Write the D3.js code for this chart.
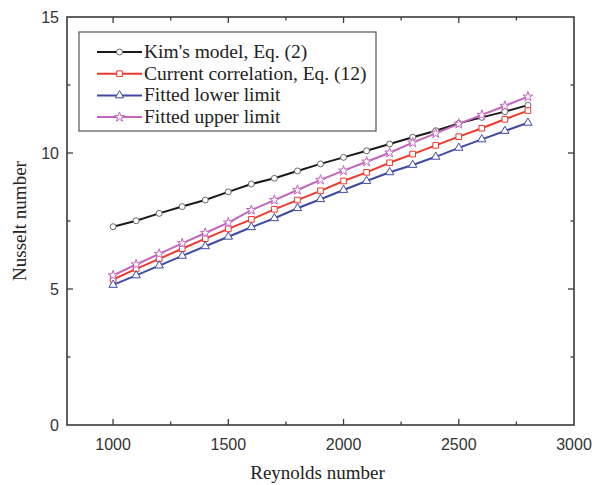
<!DOCTYPE html>
<html lang="en">
<head>
  <meta charset="UTF-8">
  <script src="https://d3js.org/d3.v7.min.js"></script>
  <title>Nusselt vs Reynolds</title>
  <style>
    body { margin: 0; background: #fff; }
  </style>
</head>
<body>
  <script>
    const reynolds = [1000, 1100, 1200, 1300, 1400, 1500, 1600, 1700, 1800, 1900,
                      2000, 2100, 2200, 2300, 2400, 2500, 2600, 2700, 2800]
    const kimModel = [7.29, 7.51, 7.78, 8.03, 8.27, 8.57, 8.86, 9.07, 9.34, 9.60,
                      9.84, 10.08, 10.33, 10.58, 10.82, 11.09, 11.31, 11.52, 11.76]
    const currentCorr = [5.35, 5.74, 6.11, 6.48, 6.85, 7.21, 7.56, 7.93, 8.27, 8.61,
                         8.97, 9.29, 9.64, 9.96, 10.28, 10.60, 10.91, 11.24, 11.56]
    const lowerLimit = [5.15, 5.50, 5.86, 6.22, 6.57, 6.92, 7.27, 7.60, 7.97, 8.30,
                        8.64, 8.97, 9.29, 9.56, 9.86, 10.19, 10.50, 10.81, 11.11]
    const upperLimit = [5.50, 5.90, 6.29, 6.68, 7.06, 7.44, 7.90, 8.27, 8.64, 9.01,
                        9.35, 9.68, 10.01, 10.38, 10.72, 11.07, 11.40, 11.73, 12.07]
    const seriesNames = ["Kim's model, Eq. (2)", "Current correlation, Eq. (12)",
                         "Fitted lower limit", "Fitted upper limit"]
    const xTicks = [1000, 1500, 2000, 2500, 3000]
    const yTicks = [0, 5, 10, 15]

    const series = [
      {name: seriesNames[0], values: kimModel, color: "#1a1a1a", marker: "circle"},
      {name: seriesNames[1], values: currentCorr, color: "#ec3a2c", marker: "square"},
      {name: seriesNames[2], values: lowerLimit, color: "#3f4aa6", marker: "triangle"},
      {name: seriesNames[3], values: upperLimit, color: "#c564bd", marker: "star"}
    ]

    const dimensions = {
      width: 592,
      height: 485,
      margin: {top: 17, right: 18, bottom: 60, left: 67}
    }
    dimensions.boundedWidth = dimensions.width - dimensions.margin.left - dimensions.margin.right
    dimensions.boundedHeight = dimensions.height - dimensions.margin.top - dimensions.margin.bottom

    const svg = d3.select("body").append("svg")
        .attr("width", dimensions.width)
        .attr("height", dimensions.height)

    const bounds = svg.append("g")
        .attr("transform", `translate(${dimensions.margin.left},${dimensions.margin.top})`)

    const xScale = d3.scaleLinear().domain([800, 3000]).range([0, dimensions.boundedWidth])
    const yScale = d3.scaleLinear().domain([0, 15]).range([dimensions.boundedHeight, 0])

    const axisColor = "#3a3a3a"
    const minorX = d3.range(1250, 3000, 500)
    const minorY = [2.5, 7.5, 12.5]

    // ticks point inward on all four sides
    function drawTicks(values, len, side) {
      bounds.append("g").selectAll("line")
        .data(values)
        .join("line")
        .attr("x1", d => side === "bottom" || side === "top" ? xScale(d) : (side === "left" ? 0 : dimensions.boundedWidth))
        .attr("x2", d => side === "bottom" || side === "top" ? xScale(d) : (side === "left" ? len : dimensions.boundedWidth - len))
        .attr("y1", d => side === "left" || side === "right" ? yScale(d) : (side === "bottom" ? dimensions.boundedHeight : 0))
        .attr("y2", d => side === "left" || side === "right" ? yScale(d) : (side === "bottom" ? dimensions.boundedHeight - len : len))
        .attr("stroke", axisColor)
        .attr("stroke-width", 1.3)
    }
    const majorX = xTicks.filter(d => d < 3000)
    const majorY = yTicks.filter(d => d > 0 && d < 15)
    drawTicks(majorX, 6, "bottom"); drawTicks(majorX, 6, "top")
    drawTicks(minorX, 3.5, "bottom"); drawTicks(minorX, 3.5, "top")
    drawTicks(majorY, 6, "left"); drawTicks(majorY, 6, "right")
    drawTicks(minorY, 3.5, "left"); drawTicks(minorY, 3.5, "right")

    bounds.append("rect")
        .attr("width", dimensions.boundedWidth)
        .attr("height", dimensions.boundedHeight)
        .attr("fill", "none")
        .attr("stroke", axisColor)
        .attr("stroke-width", 1.6)

    // tick labels
    bounds.append("g").selectAll("text")
      .data(xTicks)
      .join("text")
      .attr("x", d => xScale(d))
      .attr("y", dimensions.boundedHeight + 25)
      .attr("text-anchor", "middle")
      .attr("font-family", "Liberation Sans, Arial, sans-serif")
      .attr("font-size", 16)
      .attr("fill", "#333")
      .text(d => d)

    bounds.append("g").selectAll("text")
      .data(yTicks)
      .join("text")
      .attr("x", -8)
      .attr("y", d => yScale(d) + 6)
      .attr("text-anchor", "end")
      .attr("font-family", "Liberation Sans, Arial, sans-serif")
      .attr("font-size", 16)
      .attr("fill", "#333")
      .text(d => d)

    bounds.append("text")
      .attr("x", dimensions.boundedWidth / 2 - 3)
      .attr("y", dimensions.boundedHeight + 54)
      .attr("text-anchor", "middle")
      .attr("font-family", "Liberation Serif, Times New Roman, serif")
      .attr("font-size", 19)
      .attr("fill", "#222")
      .text("Reynolds number")

    bounds.append("text")
      .attr("transform", `translate(-41, ${dimensions.boundedHeight / 2}) rotate(-90)`)
      .attr("text-anchor", "middle")
      .attr("font-family", "Liberation Serif, Times New Roman, serif")
      .attr("font-size", 19)
      .attr("fill", "#222")
      .text("Nusselt number")

    const symbolTypes = {
      circle: d3.symbolCircle,
      square: d3.symbolSquare,
      triangle: d3.symbolTriangle,
      star: d3.symbolStar
    }
    const symbolSizes = {circle: 28, square: 32, triangle: 30, star: 30}

    const line = d3.line()
        .x((d, i) => xScale(reynolds[i]))
        .y(d => yScale(d))

    series.forEach(s => {
      bounds.append("path")
        .datum(s.values)
        .attr("d", line)
        .attr("fill", "none")
        .attr("stroke", s.color)
        .attr("stroke-width", 2)

      bounds.append("g").selectAll("path")
        .data(s.values)
        .join("path")
        .attr("transform", (d, i) => `translate(${xScale(reynolds[i])},${yScale(d)})`)
        .attr("d", d3.symbol().type(symbolTypes[s.marker]).size(symbolSizes[s.marker]))
        .attr("fill", "#fff")
        .attr("stroke", s.color === "#1a1a1a" ? "#666" : s.color)
        .attr("stroke-width", 1)
    })

    // legend
    const legend = bounds.append("g")
        .attr("transform", `translate(${79 - dimensions.margin.left},${32 - dimensions.margin.top})`)

    legend.append("rect")
        .attr("width", 297)
        .attr("height", 99)
        .attr("fill", "#fff")
        .attr("stroke", "#555")
        .attr("stroke-width", 1.2)

    series.forEach((s, i) => {
      const y = 20 + i * 21.7
      legend.append("line")
        .attr("x1", 18).attr("x2", 63)
        .attr("y1", y).attr("y2", y)
        .attr("stroke", s.color)
        .attr("stroke-width", 2)
      legend.append("path")
        .attr("transform", `translate(40.5,${y})`)
        .attr("d", d3.symbol().type(symbolTypes[s.marker]).size(symbolSizes[s.marker]))
        .attr("fill", "#fff")
        .attr("stroke", s.color === "#1a1a1a" ? "#666" : s.color)
        .attr("stroke-width", 1)
      legend.append("text")
        .attr("x", 65)
        .attr("y", y + 6)
        .attr("font-family", "Liberation Serif, Times New Roman, serif")
        .attr("font-size", 19.5)
        .attr("fill", "#222")
        .text(s.name)
    })
  </script>
</body>
</html>
